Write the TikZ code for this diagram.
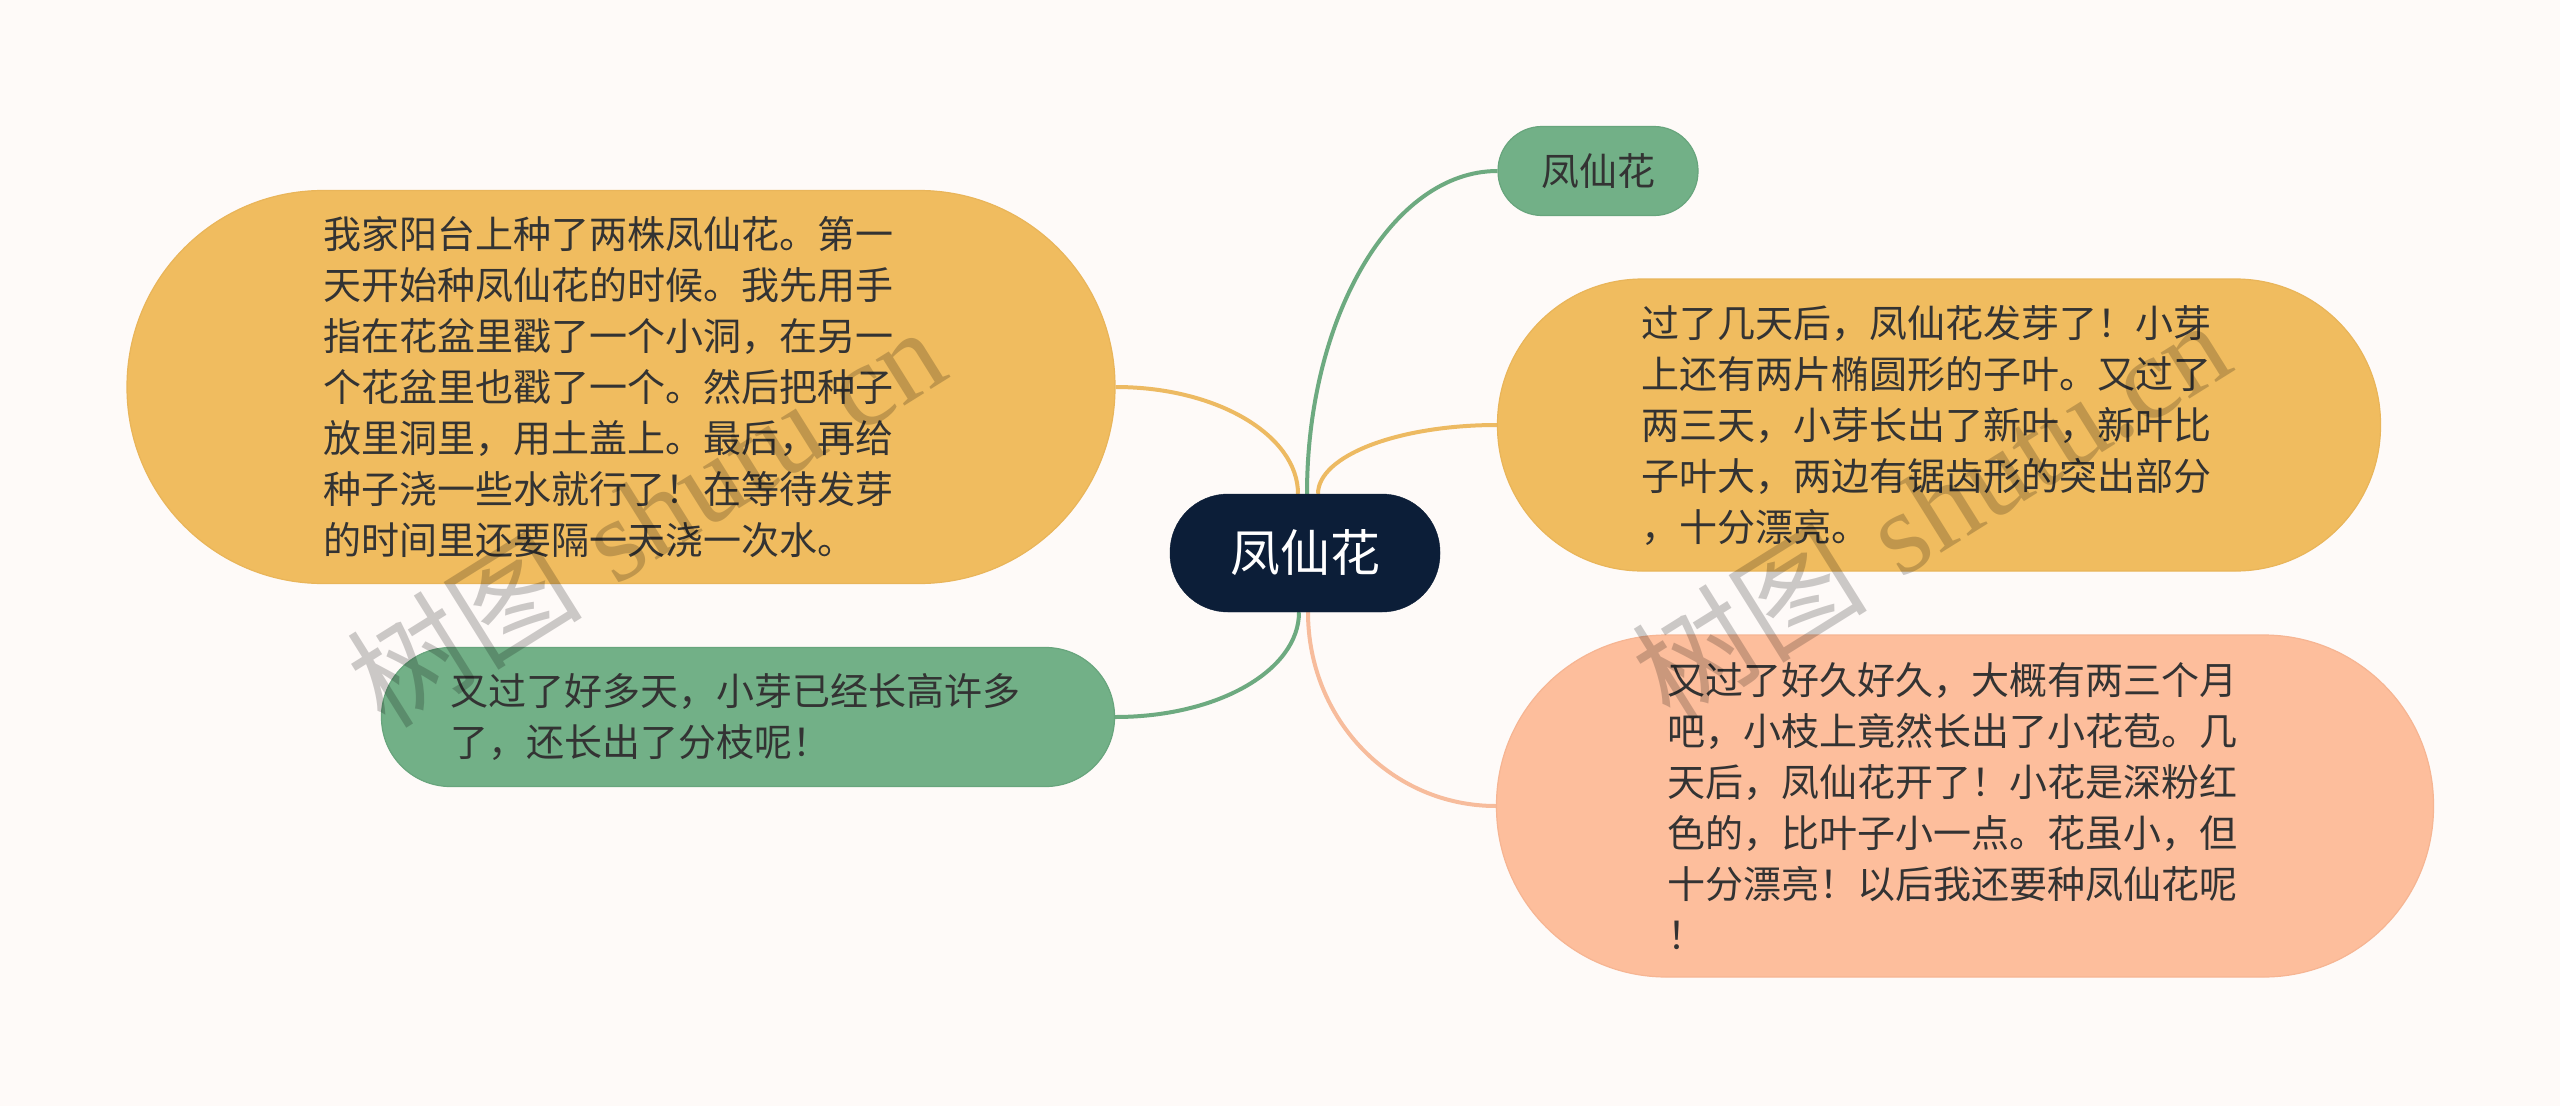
\documentclass[tikz,border=0pt]{standalone}
\usepackage{fontspec}
\newfontfamily\cjk{Noto Sans CJK SC}
\newfontfamily\wmlat{Liberation Serif}
\usetikzlibrary{backgrounds}
\definecolor{bgc}{HTML}{FEFAF8}
\definecolor{yel}{HTML}{F0BC5F}
\definecolor{yelb}{HTML}{E9B55A}
\definecolor{grn}{HTML}{72B087}
\definecolor{grnb}{HTML}{68A57D}
\definecolor{pnk}{HTML}{FDBE9C}
\definecolor{pnkb}{HTML}{F6B593}
\definecolor{navy}{HTML}{0C1E38}
\definecolor{txt}{HTML}{333333}
\definecolor{yell}{HTML}{EDBA62}
\definecolor{grnl}{HTML}{6DAA80}
\definecolor{pnkl}{HTML}{F7BC9C}
\begin{document}
\begin{tikzpicture}[x=1pt,y=-1pt,
  bubble/.style={rectangle, inner sep=0pt, line width=1.2pt, text=txt,
    font=\cjk\fontsize{38}{51}\selectfont},
  para/.style={text width=596pt, align=left},
  link/.style={line width=4pt},
  wmark/.style={rotate=32, text=black, text opacity=0.2, inner sep=0pt,
    font=\fontsize{118}{130}\selectfont},
]
\useasboundingbox (0,0) rectangle (2560,1106);

% central topic
\node[rectangle, fill=navy, draw=navy, minimum width=270pt, minimum height=118pt,
  rounded corners=58pt, inner sep=0pt, text=white,
  font=\cjk\fontsize{50}{60}\selectfont] (c) at (1305,553) {凤仙花};

% children
\node[bubble, fill=grn, draw=grnb, minimum width=200pt, minimum height=89pt,
  rounded corners=44pt] (n1) at (1598,171) {凤仙花};

\node[bubble, para, fill=yel, draw=yelb, minimum width=883pt, minimum height=292pt,
  rounded corners=145pt] (n2) at (1939,425) {过了几天后，凤仙花发芽了！小芽\\
上还有两片椭圆形的子叶。又过了\\
两三天，小芽长出了新叶，新叶比\\
子叶大，两边有锯齿形的突出部分\\
，十分漂亮。};

\node[bubble, para, fill=pnk, draw=pnkb, minimum width=937pt, minimum height=342pt,
  rounded corners=170pt] (n3) at (1965,806) {又过了好久好久，大概有两三个月\\
吧，小枝上竟然长出了小花苞。几\\
天后，凤仙花开了！小花是深粉红\\
色的，比叶子小一点。花虽小，但\\
十分漂亮！以后我还要种凤仙花呢\\
！};

\node[bubble, para, fill=yel, draw=yelb, minimum width=988pt, minimum height=393pt,
  rounded corners=196pt] (n4) at (621,387) {我家阳台上种了两株凤仙花。第一\\
天开始种凤仙花的时候。我先用手\\
指在花盆里戳了一个小洞，在另一\\
个花盆里也戳了一个。然后把种子\\
放里洞里，用土盖上。最后，再给\\
种子浇一些水就行了！在等待发芽\\
的时间里还要隔一天浇一次水。};

\node[bubble, para, fill=grn, draw=grnb, minimum width=733pt, minimum height=139pt,
  rounded corners=69pt] (n5) at (748,717) {又过了好多天，小芽已经长高许多\\
了，还长出了分枝呢！};

\begin{scope}[on background layer]
  \fill[bgc] (0,0) rectangle (2560,1106);
  \draw[link, grnl] ([xshift=2pt]c.north) .. controls +(0,-177) and +(-105,0) .. (n1.west);
  \draw[link, yell] ([xshift=-7pt]c.north) .. controls +(0,-58) and +(102,0) .. (n4.east);
  \draw[link, yell] ([xshift=13pt]c.north) .. controls +(0,-38) and +(-99,0) .. (n2.west);
  \draw[link, grnl] ([xshift=-6pt]c.south) .. controls +(0,58) and +(103,0) .. (n5.east);
  \draw[link, pnkl] ([xshift=3pt]c.south) .. controls +(0,108) and +(-104,0) .. (n3.west);
\end{scope}

% watermarks
\node[wmark] (wm1) at (645,515) {{\cjk 树图} {\wmlat shutu.cn}};
\node[wmark] (wm2) at (1930,508) {{\cjk 树图} {\wmlat shutu.cn}};
\end{tikzpicture}
\end{document}
